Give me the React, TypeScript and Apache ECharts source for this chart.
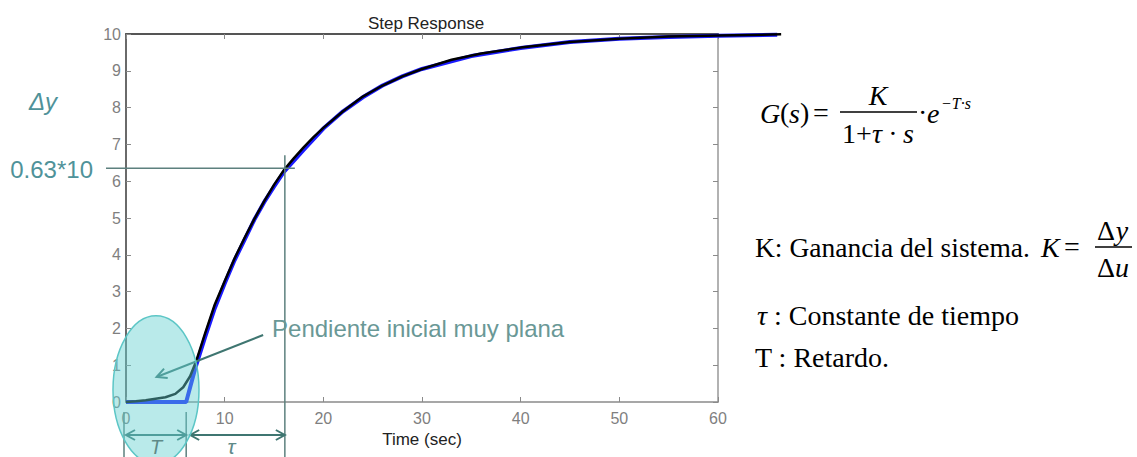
import React, { useEffect, useRef } from "react";
import * as echarts from "echarts";

// Measured step response (black)
const TIME_MEASURED = [0, 1, 2, 3, 4, 5, 5.8, 6.5, 7.1, 8, 9, 10, 11, 12, 13, 14, 15, 16, 17, 18, 19, 20, 22, 24, 26, 28, 30, 33, 36, 40, 45, 50, 55, 60, 66.4];
const RESP_MEASURED = [0, 0.02, 0.05, 0.09, 0.13, 0.22, 0.4, 0.7, 1.1, 1.85, 2.65, 3.28, 3.9, 4.45, 4.97, 5.45, 5.9, 6.3, 6.62, 6.92, 7.2, 7.45, 7.9, 8.3, 8.6, 8.85, 9.05, 9.3, 9.47, 9.63, 9.78, 9.87, 9.93, 9.96, 9.99];
// First-order-plus-dead-time model (blue)
const TIME_MODEL = [0, 6.1, 7, 8, 9, 10, 11, 12, 13, 14, 15, 16, 18, 20, 22, 24, 26, 28, 30, 35, 40, 45, 50, 55, 60, 66];
const RESP_MODEL = [0, 0, 0.9, 1.75, 2.55, 3.22, 3.85, 4.4, 4.95, 5.43, 5.85, 6.25, 6.85, 7.43, 7.9, 8.28, 8.6, 8.85, 9.05, 9.4, 9.62, 9.78, 9.87, 9.92, 9.95, 9.98];

const X_MAX = 60;
const X_EXT = 67; // the traces run a little past the plot frame
const DELAY_T = 6.1;
const TAU_END = 16.1;
const Y63 = 6.35;

const SANS = "Liberation Sans";
const SERIF = "Liberation Serif";

function arrowHead(xTip: number, yTip: number, xFrom: number, yFrom: number, len: number, half: number) {
  const dx = xTip - xFrom, dy = yTip - yFrom;
  const L = Math.hypot(dx, dy) || 1;
  const ux = dx / L, uy = dy / L;
  const bx = xTip - ux * len, by = yTip - uy * len;
  return [
    [bx - uy * half, by + ux * half],
    [xTip, yTip],
    [bx + uy * half, by - ux * half],
  ];
}

export default function App() {
  const ref = useRef<HTMLDivElement>(null);
  useEffect(() => {
    document.body.style.margin = "0";
    const chart = echarts.init(ref.current!, null, { renderer: "svg" });
    const GL = 126, GT = 34, GW = 592, GH = 368;
    const tick = { show: true, inside: true, length: 5, lineStyle: { color: "#8a8a8a" } };
    chart.setOption({
      animation: false,
      grid: [
        { left: GL, top: GT, width: GW, height: GH },
        { left: GL, top: GT, width: (GW * X_EXT) / X_MAX, height: GH },
      ],
      xAxis: [
        {
          type: "value", gridIndex: 0, min: 0, max: X_MAX, interval: 10, position: "bottom",
          splitLine: { show: false },
          axisLine: { show: true, onZero: false, lineStyle: { color: "#8a8a8a", width: 1.5 } },
          axisTick: tick,
          axisLabel: { color: "#7f7f7f", fontSize: 16, fontFamily: SANS, margin: 8 },
          name: "Time (sec)", nameLocation: "middle", nameGap: 27,
          nameTextStyle: { color: "#222", fontSize: 17, fontFamily: SANS },
        },
        {
          type: "value", gridIndex: 0, min: 0, max: X_MAX, interval: 10, position: "top",
          splitLine: { show: false },
          axisLine: { show: true, onZero: false, lineStyle: { color: "#555", width: 2 } },
          axisTick: tick,
          axisLabel: { show: false },
        },
        {
          type: "value", gridIndex: 1, min: 0, max: X_EXT, show: false,
        },
      ],
      yAxis: [
        {
          type: "value", gridIndex: 0, min: 0, max: 10, interval: 1, position: "left",
          splitLine: { show: false },
          axisLine: { show: true, onZero: false, lineStyle: { color: "#6a6a6a", width: 2 } },
          axisTick: tick,
          axisLabel: { color: "#7f7f7f", fontSize: 16, fontFamily: SANS, margin: 5 },
        },
        {
          type: "value", gridIndex: 0, min: 0, max: 10, interval: 1, position: "right",
          splitLine: { show: false },
          axisLine: { show: true, onZero: false, lineStyle: { color: "#999", width: 1.5 } },
          axisTick: tick,
          axisLabel: { show: false },
        },
        {
          type: "value", gridIndex: 1, min: 0, max: 10, show: false,
        },
      ],
      series: [
        {
          type: "line", xAxisIndex: 2, yAxisIndex: 2, clip: false, showSymbol: false, z: 2,
          data: TIME_MODEL.map((t, i) => [t, RESP_MODEL[i]]),
          lineStyle: { color: "#1a1aff", width: 4 },
        },
        {
          type: "line", xAxisIndex: 2, yAxisIndex: 2, clip: false, showSymbol: false, z: 3,
          data: TIME_MEASURED.map((t, i) => [t, RESP_MEASURED[i]]),
          lineStyle: { color: "#000", width: 2.5 },
        },
      ],
    });

    const px = (x: number, y: number) => chart.convertToPixel({ gridIndex: 0 }, [x, y]) as number[];
    const [x0, yBase] = px(0, 0);
    const [xT] = px(DELAY_T, 0);
    const [xTau, y63] = px(TAU_END, Y63);
    const [ecx, ecy] = px(3.04, 0.33);
    const [aFromX, aFromY] = px(13.9, 1.82);
    const [aToX, aToY] = px(3.1, 0.68);
    const [txX, txY] = px(14.8, 2.0);

    const annoColor = "#5d807e";
    const arrowColor = "#3f7671";
    const arrowY = yBase + 33;
    const lineEl = (x1: number, y1: number, x2: number, y2: number, color: string, w = 1.5) => ({
      type: "line", z: 10, shape: { x1, y1, x2, y2 }, style: { stroke: color, lineWidth: w },
    });
    const headEl = (pts: number[][], color: string) => ({
      type: "polyline", z: 10, shape: { points: pts }, style: { stroke: color, lineWidth: 2, fill: null },
    });
    const text = (t: string, x: number, y: number, font: string, fill: string, align = "left", va = "middle") => ({
      type: "text", z: 12, x, y,
      style: { text: t, font, fill, textAlign: align, textVerticalAlign: va, align, verticalAlign: va },
    });

    chart.setOption({
      graphic: [
        // ellipse highlighting the dead time
        {
          type: "ellipse", z: 11, shape: { cx: ecx, cy: ecy, rx: 43, ry: 74 },
          style: { fill: "rgba(100,208,208,0.45)", stroke: "#5cc6c6", lineWidth: 1.5 },
        },
        // 63% lines
        lineEl(106, y63, xTau + 10, y63, annoColor),
        lineEl(xTau, y63 - 13, xTau, 457, annoColor),
        // T & tau markers
        lineEl(x0 - 2, yBase + 10, x0 - 2, 457, annoColor),
        lineEl(xT, yBase + 10, xT, 457, annoColor),
        lineEl(x0, arrowY, xT, arrowY, arrowColor, 2),
        headEl(arrowHead(x0, arrowY, xT, arrowY, 9, 5), arrowColor),
        headEl(arrowHead(xT, arrowY, x0, arrowY, 9, 5), arrowColor),
        lineEl(xT + 4, arrowY, xTau, arrowY, arrowColor, 2),
        headEl(arrowHead(xT + 4, arrowY, xTau, arrowY, 9, 5), arrowColor),
        headEl(arrowHead(xTau, arrowY, xT + 4, arrowY, 9, 5), arrowColor),
        text("T", (x0 + xT) / 2, 457, `italic 20px ${SANS}`, "#5f8a88", "center", "bottom"),
        text("τ", (xT + xTau) / 2 - 4, 457, `italic 21px ${SANS}`, "#5f8a88", "center", "bottom"),
        // slope annotation
        lineEl(aFromX, aFromY, aToX, aToY, arrowColor, 2),
        headEl(arrowHead(aToX, aToY, aFromX, aFromY, 10, 5), arrowColor),
        text("Pendiente inicial muy plana", txX, txY, `24px ${SANS}`, "#6a9896", "left", "middle"),
        // axis annotations
        text("Δy", 43, 101, `italic 24px ${SANS}`, "#4f9299", "center", "middle"),
        text("0.63*10", 93, y63 + 1, `24px ${SANS}`, "#4f9299", "right", "middle"),
        // title
        text("Step Response", 426, 23, `17px ${SANS}`, "#222", "center", "middle"),
        // transfer function
        text("G", 760, 113, `italic 28px ${SERIF}`, "#000", "left", "middle"),
        text("(", 780, 112, `28px ${SERIF}`, "#000", "left", "middle"),
        text("s", 789, 113, `italic 28px ${SERIF}`, "#000", "left", "middle"),
        text(")", 800, 112, `28px ${SERIF}`, "#000", "left", "middle"),
        text("=", 813, 112, `28px ${SERIF}`, "#000", "left", "middle"),
        lineEl(840, 112, 917, 112, "#000", 1.5),
        text("K", 878, 95, `italic 28px ${SERIF}`, "#000", "center", "middle"),
        text("1+", 842, 133, `28px ${SERIF}`, "#000", "left", "middle"),
        text("τ · s", 872, 133, `italic 28px ${SERIF}`, "#000", "left", "middle"),
        text("·", 918, 112, `28px ${SERIF}`, "#000", "left", "middle"),
        text("e", 927, 113, `italic 28px ${SERIF}`, "#000", "left", "middle"),
        text("−T·s", 941, 103, `italic 16px ${SERIF}`, "#000", "left", "middle"),
        // descriptions
        text("K: Ganancia del sistema.", 755, 247, `27.5px ${SERIF}`, "#000", "left", "middle"),
        text("K", 1041, 247, `italic 28px ${SERIF}`, "#000", "left", "middle"),
        text("=", 1064, 246, `28px ${SERIF}`, "#000", "left", "middle"),
        lineEl(1095, 247, 1132, 247, "#000", 1.5),
        text("Δ", 1106, 230, `28px ${SERIF}`, "#000", "center", "middle"),
        text("y", 1122, 230, `italic 28px ${SERIF}`, "#000", "center", "middle"),
        text("Δ", 1106, 267, `28px ${SERIF}`, "#000", "center", "middle"),
        text("u", 1122, 267, `italic 28px ${SERIF}`, "#000", "center", "middle"),
        text("τ", 762, 315, `italic 28px ${SERIF}`, "#000", "center", "middle"),
        text(": Constante de tiempo", 774, 315, `28px ${SERIF}`, "#000", "left", "middle"),
        text("T : Retardo.", 755, 357, `28px ${SERIF}`, "#000", "left", "middle"),
      ],
    });
    return () => chart.dispose();
  }, []);
  return <div ref={ref} style={{ width: 1137, height: 457 }} />;
}
